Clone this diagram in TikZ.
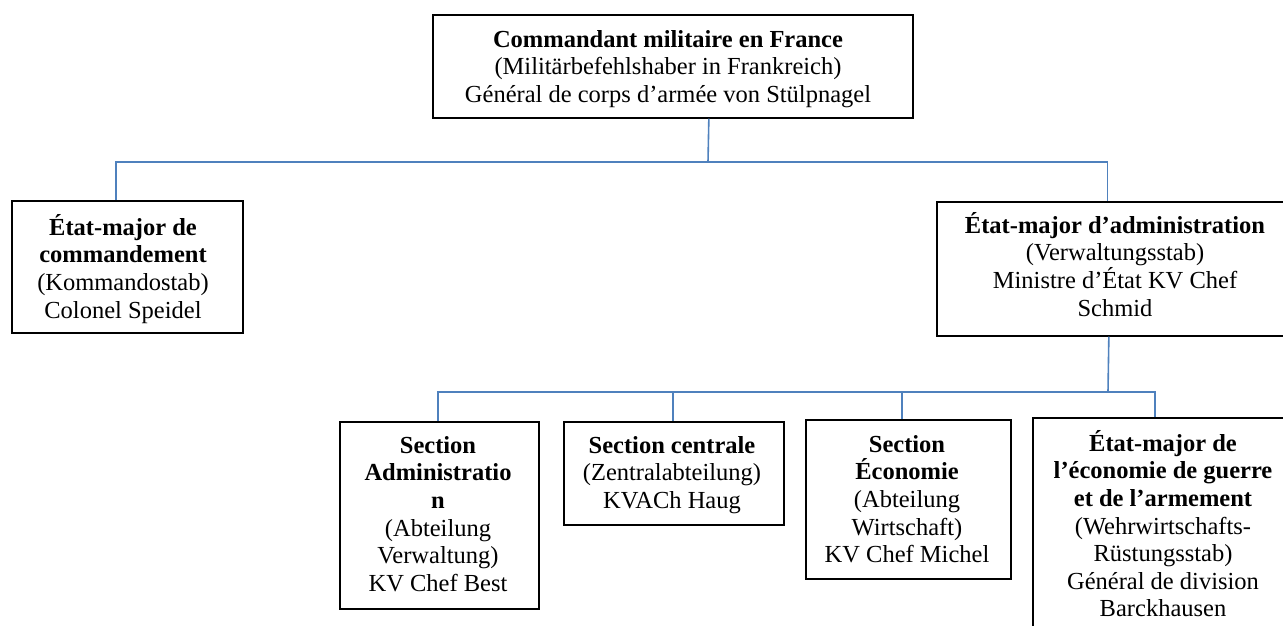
\documentclass[tikz,border=0pt]{standalone}
\usepackage{fontspec}
\setmainfont{Liberation Serif}
\definecolor{connblue}{RGB}{79,129,189}
\begin{document}
\begin{tikzpicture}[x=1pt,y=-1pt,
  box/.style={draw=black,line width=1.7pt,inner sep=0pt,anchor=north west},
  txt/.style={anchor=north,inner sep=0pt,align=center,font=\fontsize{24.5}{27.6}\selectfont},
  conn/.style={draw=connblue,line width=1.6pt}]
\useasboundingbox (0,0) rectangle (1283,626);
% boxes
\node[box,minimum width=480pt,minimum height=103pt] (top) at (432,14) {};
\node[box,minimum width=231pt,minimum height=132pt] (cmd) at (11,200) {};
\node[box,minimum width=358pt,minimum height=134pt] (adm) at (936,201) {};
\node[box,minimum width=199pt,minimum height=187pt] (sadm) at (339,421) {};
\node[box,minimum width=220pt,minimum height=103pt] (scen) at (563,421) {};
\node[box,minimum width=205pt,minimum height=159pt] (seco) at (805,419) {};
\node[box,minimum width=262pt,minimum height=230pt] (swr) at (1032,417) {};
% texts
\node[txt] (topt) at (668,24) {\rule{0pt}{23pt}\textbf{Commandant militaire en France}\\(Militärbefehlshaber in Frankreich)\\Général de corps d’armée von Stülpnagel};
\node[txt] (cmdt) at (123,212) {\rule{0pt}{23pt}\textbf{État-major de}\\\textbf{commandement}\\(Kommandostab)\\Colonel Speidel};
\node[txt] (admt) at (1115,210) {\rule{0pt}{23pt}\textbf{État-major d’administration}\\(Verwaltungsstab)\\Ministre d’État KV Chef\\Schmid};
\node[txt] (sadmt) at (438,430) {\rule{0pt}{23pt}\textbf{Section}\\\textbf{Administratio}\\\textbf{n}\\(Abteilung\\Verwaltung)\\KV Chef Best};
\node[txt] (scent) at (672,430) {\rule{0pt}{23pt}\textbf{Section centrale}\\(Zentralabteilung)\\KVACh Haug};
\node[txt] (secot) at (907,429) {\rule{0pt}{23pt}\textbf{Section}\\\textbf{Économie}\\(Abteilung\\Wirtschaft)\\KV Chef Michel};
\node[txt] (swrt) at (1163,428) {\rule{0pt}{23pt}\textbf{État-major de}\\\textbf{l’économie de guerre}\\\textbf{et de l’armement}\\(Wehrwirtschafts-\\Rüstungsstab)\\Général de division\\Barckhausen};
% connectors
\coordinate (bus1) at (708,162);
\coordinate (bus2) at (1108,392);
\draw[conn] ([xshift=36pt]top.south) -- (bus1);
\draw[conn] (bus1) -| ([xshift=-11.5pt]cmd.north);
\draw[conn] (bus1) -| ([xshift=-8.5pt]adm.north);
\draw[conn] ([xshift=-7pt]adm.south) -- (bus2);
\draw[conn] (bus2) -| ([xshift=-1.5pt]sadm.north);
\draw[conn] (bus2) -| ([xshift=-1pt]scen.north);
\draw[conn] (bus2) -| ([xshift=-6.5pt]seco.north);
\draw[conn] (bus2) -| ([xshift=-9pt]swr.north);
\end{tikzpicture}
\end{document}
